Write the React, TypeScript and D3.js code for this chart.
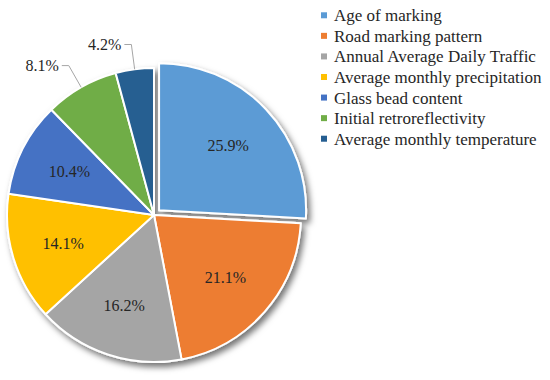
import { useEffect, useRef } from 'react';
import * as d3 from 'd3';

const categories = [
    'Age of marking',
    'Road marking pattern',
    'Annual Average Daily Traffic',
    'Average monthly precipitation',
    'Glass bead content',
    'Initial retroreflectivity',
    'Average monthly temperature',
];
const shares = [25.9, 21.1, 16.2, 14.1, 10.4, 8.1, 4.2];
const colors = ['#5B9BD5', '#ED7D31', '#A5A5A5', '#FFC000', '#4472C4', '#70AD47', '#255E91'];
// slices whose label sits outside with a leader line
const outsideLabels = [false, false, false, false, false, true, true];

export default function App() {
    const ref = useRef<SVGSVGElement>(null);

    useEffect(() => {
        if (!ref.current) return;
        const svg = d3.select(ref.current);
        svg.selectAll('*').remove();

        const font = '"Liberation Serif", serif';
        const cx = 154, cy = 215, r = 147;

        const defs = svg.append('defs');
        const filter = defs.append('filter')
            .attr('id', 'shadow')
            .attr('x', '-20%').attr('y', '-20%')
            .attr('width', '140%').attr('height', '140%');
        filter.append('feDropShadow')
            .attr('dx', 3).attr('dy', 4)
            .attr('stdDeviation', 3)
            .attr('flood-color', '#000')
            .attr('flood-opacity', 0.55);

        const pie = d3.pie<number>().sort(null).value(d => d);
        const arcs = pie(shares);
        const arc = d3.arc<d3.PieArcDatum<number>>().innerRadius(0).outerRadius(r);
        const labelArc = d3.arc<d3.PieArcDatum<number>>().innerRadius(95).outerRadius(95);

        const g = svg.append('g').attr('transform', `translate(${cx},${cy})`);
        const slices = g.append('g').attr('filter', 'url(#shadow)');

        arcs.forEach((a, i) => {
            const mid = (a.startAngle + a.endAngle) / 2;
            const off = i === 0 ? 7 : 0;
            const dx = Math.sin(mid) * off, dy = -Math.cos(mid) * off;
            slices.append('path')
                .attr('d', arc(a) as string)
                .attr('transform', `translate(${dx},${dy})`)
                .attr('fill', colors[i])
                .attr('stroke', '#fff')
                .attr('stroke-width', 2)
                .attr('stroke-linejoin', 'round');
        });

        arcs.forEach((a, i) => {
            const mid = (a.startAngle + a.endAngle) / 2;
            const text = `${shares[i].toFixed(1)}%`;
            if (!outsideLabels[i]) {
                const off = i === 0 ? 7 : 0;
                const [lx, ly] = labelArc.centroid(a);
                g.append('text')
                    .attr('x', lx + Math.sin(mid) * off)
                    .attr('y', ly - Math.cos(mid) * off)
                    .attr('dy', '0.35em')
                    .attr('text-anchor', 'middle')
                    .attr('font-family', font)
                    .attr('font-size', 16)
                    .attr('fill', '#262626')
                    .text(text);
            } else {
                const p0 = [Math.sin(mid) * r, -Math.cos(mid) * r];
                const p1 = [Math.sin(mid) * r * 1.17, -Math.cos(mid) * r * 1.17];
                const p2 = [p1[0] - 7, p1[1]];
                g.append('polyline')
                    .attr('points', [p0, p1, p2].map(p => p.join(',')).join(' '))
                    .attr('fill', 'none')
                    .attr('stroke', '#a6a6a6')
                    .attr('stroke-width', 1);
                g.append('text')
                    .attr('x', p2[0] - 3)
                    .attr('y', p2[1])
                    .attr('dy', '0.35em')
                    .attr('text-anchor', 'end')
                    .attr('font-family', font)
                    .attr('font-size', 16)
                    .attr('fill', '#262626')
                    .text(text);
            }
        });

        // Legend
        const y = d3.scaleBand<string>().domain(categories).range([5, 149]);
        const legend = svg.append('g');
        categories.forEach((c, i) => {
            const yc = (y(c) ?? 0) + y.bandwidth() / 2;
            legend.append('rect')
                .attr('x', 321).attr('y', yc - 3)
                .attr('width', 6).attr('height', 6)
                .attr('fill', colors[i]);
            legend.append('text')
                .attr('x', 334).attr('y', yc)
                .attr('dy', '0.35em')
                .attr('font-family', font)
                .attr('font-size', 17)
                .attr('fill', '#262626')
                .text(c);
        });
    }, []);

    return (
        <svg
            ref={ref}
            width={550}
            height={380}
            style={{ position: 'absolute', left: 0, top: 0, background: '#fff' }}
        />
    );
}
